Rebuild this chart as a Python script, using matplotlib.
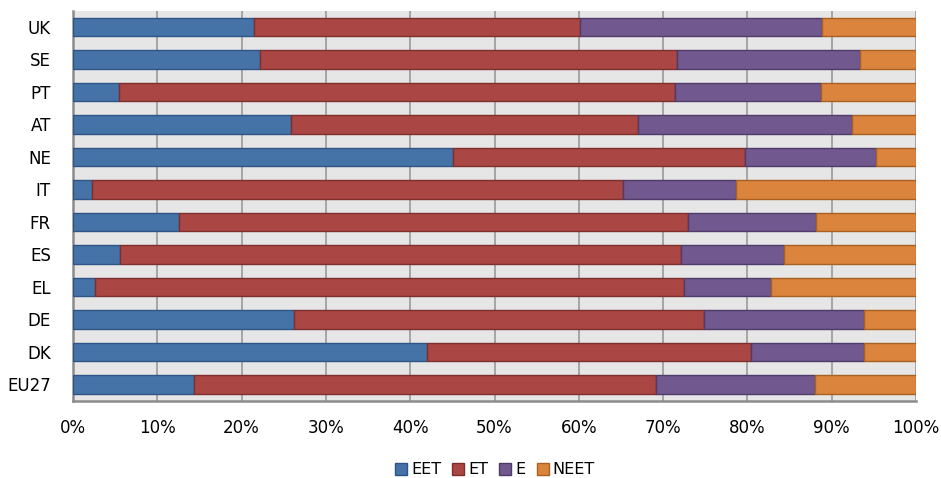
import matplotlib
matplotlib.use('Agg')
import matplotlib.pyplot as plt
import numpy as np

# countries, bottom to top
countries = ["EU27", "DK", "DE", "EL", "ES", "FR", "IT", "NE", "AT", "PT", "SE", "UK"]

# shares in %
eet  = [14.3, 42.0, 26.2,  2.6,  5.6, 12.6,  2.2, 45.1, 25.9,  5.4, 22.2, 21.5]
et   = [54.9, 38.4, 48.6, 69.9, 66.5, 60.4, 63.1, 34.6, 41.1, 66.0, 49.5, 38.6]
e    = [18.8, 13.4, 19.0, 10.3, 12.3, 15.1, 13.3, 15.6, 25.4, 17.3, 21.6, 28.8]
neet = [12.0,  6.2,  6.2, 17.2, 15.6, 11.9, 21.4,  4.7,  7.6, 11.3,  6.7, 11.1]

series = [("EET", eet, "#4572A7", "#2f5486"),
          ("ET", et, "#AA4643", "#7e2f2d"),
          ("E", e, "#71588F", "#4f3b6a"),
          ("NEET", neet, "#DB843D", "#a95f22")]

plt.rcParams['font.family'] = ['DejaVu Sans']

fig = plt.figure(figsize=(9.41, 4.78), dpi=100)
ax = fig.add_axes([73/941, 1 - 400.7/478, (916-73)/941, (400.7-10.7)/478])
ax.set_facecolor("#e6e6e6")

y = np.arange(len(countries))
left = np.zeros(len(countries))
for name, vals, col, edge in series:
    vals = np.array(vals)
    ax.barh(y, vals, left=left, height=0.57, color=col, edgecolor=edge,
            linewidth=1.0, label=name, zorder=3)
    left = left + vals

ax.set_xlim(0, 100)
ax.set_ylim(-0.5, len(countries) - 0.5)
ax.set_xticks(np.arange(0, 101, 10))
ax.set_xticklabels([f"{v}%" for v in range(0, 101, 10)])
ax.set_yticks(y)
ax.set_yticklabels(countries)
ax.tick_params(axis='both', length=0, labelsize=12)
ax.tick_params(axis='y', pad=16)
ax.tick_params(axis='x', pad=13)
ax.xaxis.grid(True, color="#9a9a9a", linewidth=1.2, zorder=0)
ax.set_axisbelow(True)

for s in ["top", "right"]:
    ax.spines[s].set_visible(False)
for s in ["left", "bottom"]:
    ax.spines[s].set_color("#8c8c8c")
    ax.spines[s].set_linewidth(1.8)

fig.legend(loc="center", bbox_to_anchor=(0.526, 1 - 470/478), ncol=4,
           frameon=False, fontsize=11.5, handlelength=0.75, handleheight=0.75,
           handletextpad=0.25, columnspacing=0.7)

fig.savefig("out.png", dpi=100)
